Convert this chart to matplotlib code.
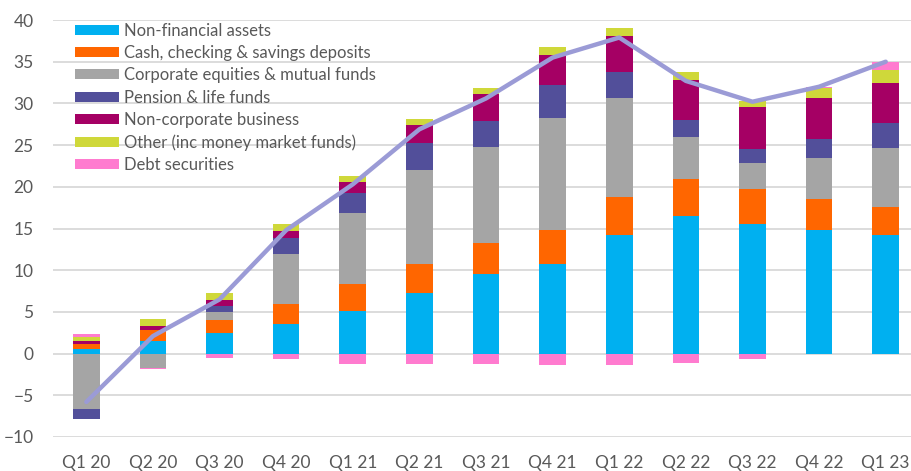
import matplotlib
matplotlib.use("Agg")
import matplotlib.pyplot as plt
import numpy as np

plt.rcParams['font.family'] = ['Lato', 'DejaVu Sans']

quarters = ['Q1 20', 'Q2 20', 'Q3 20', 'Q4 20', 'Q1 21', 'Q2 21', 'Q3 21',
            'Q4 21', 'Q1 22', 'Q2 22', 'Q3 22', 'Q4 22', 'Q1 23']

# stacked components (trillions)
non_financial = [0.6, 1.5, 2.5, 3.6, 5.1, 7.3, 9.5, 10.7, 14.2, 16.5, 15.5, 14.8, 14.2]
cash_deposits = [0.6, 1.3, 1.5, 2.3, 3.2, 3.4, 3.75, 4.15, 4.6, 4.4, 4.2, 3.7, 3.4]
equities_funds = [-6.7, -1.7, 1.0, 6.0, 8.5, 11.3, 11.5, 13.45, 11.8, 5.1, 3.2, 5.0, 7.1]
pension_life = [-1.1, 0.0, 0.75, 1.95, 2.5, 3.2, 3.1, 3.9, 3.2, 2.0, 1.6, 2.2, 3.0]
non_corporate = [0.3, 0.5, 0.7, 0.9, 1.3, 2.2, 3.3, 3.6, 4.3, 4.75, 5.1, 4.9, 4.7]
other_mmf = [0.5, 0.8, 0.8, 0.8, 0.7, 0.7, 0.7, 1.0, 0.9, 1.05, 0.7, 1.2, 1.55]
debt_securities = [0.3, -0.2, -0.5, -0.6, -1.2, -1.2, -1.2, -1.4, -1.4, -1.1, -0.6, 0.2, 1.05]

total = [-5.8, 2.1, 6.5, 14.8, 20.3, 26.9, 30.6, 35.5, 37.9, 32.7, 30.2, 32.0, 35.0]

series = [
    ('Non-financial assets', non_financial, '#00B0F0'),
    ('Cash, checking & savings deposits', cash_deposits, '#FF6600'),
    ('Corporate equities & mutual funds', equities_funds, '#A5A5A5'),
    ('Pension & life funds', pension_life, '#524F9A'),
    ('Non-corporate business', non_corporate, '#A50064'),
    ('Other (inc money market funds)', other_mmf, '#CFD83A'),
    ('Debt securities', debt_securities, '#FF7BCF'),
]

fig = plt.figure(figsize=(9.11, 4.71), dpi=100)
ax = fig.add_axes([0.0582, 0.0722, 0.9506, 0.8853])

x = np.arange(len(quarters))
pos_base = np.zeros(len(quarters))
neg_base = np.zeros(len(quarters))
for name, vals, col in series:
    v = np.array(vals)
    bottom = np.where(v >= 0, pos_base, neg_base)
    ax.bar(x, v, 0.4, bottom=bottom, color=col, label=name, zorder=2)
    pos_base += np.where(v >= 0, v, 0)
    neg_base += np.where(v < 0, v, 0)

ax.plot(x, total, color='#9B9BD6', lw=3.2, zorder=3, solid_capstyle='round')

ax.set_xlim(-0.5, len(quarters) - 0.5)
ax.set_ylim(-10, 40)
ax.set_yticks(range(-10, 41, 5))
ax.set_xticks(x)
ax.set_xticklabels(quarters)
ax.grid(axis='y', color='#D9D9D9', lw=1.3, zorder=0)
for s in ax.spines.values():
    s.set_visible(False)
ax.tick_params(length=0, colors='#595959', labelsize=12.5)
ax.tick_params(axis='x', pad=13)
ax.tick_params(axis='y', pad=14)

leg = ax.legend(loc='upper left', bbox_to_anchor=(0.018, 1.01), frameon=False,
                fontsize=12, handlelength=2.6, handleheight=0.55,
                labelspacing=0.38, handletextpad=0.3, borderaxespad=0)
for t in leg.get_texts():
    t.set_color('#595959')

plt.savefig('out.png', dpi=100)
